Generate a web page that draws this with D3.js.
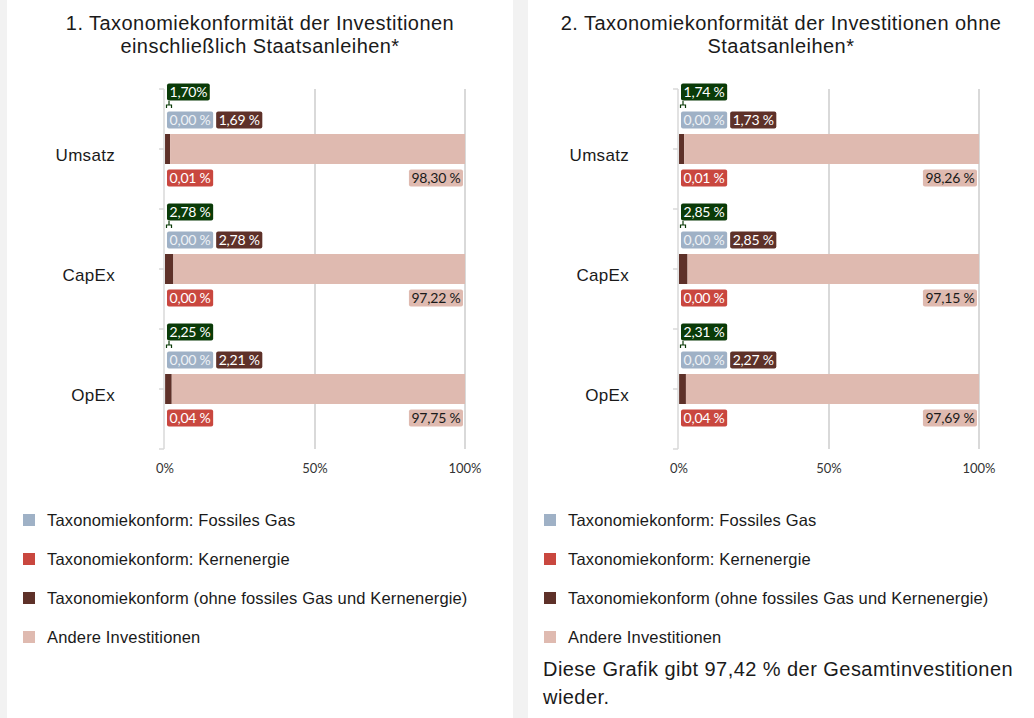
<!DOCTYPE html>
<html>
<head>
<meta charset="utf-8">
<script src="https://cdn.jsdelivr.net/npm/d3@7"></script>
<style>
  body { margin: 0; background: #f2f2f2; }
  svg { display: block; }
</style>
</head>
<body>
<script>
var width = 1034,
    height = 718;

// Daten
var categories = ['Umsatz', 'CapEx', 'OpEx'];
var ticks = [0, 50, 100];
var tickLabels = ['0%', '50%', '100%'];

var titles1 = ['1. Taxonomiekonformität der Investitionen', 'einschließlich Staatsanleihen*'];
var gas1 = [0.00, 0.00, 0.00];
var nuclear1 = [0.01, 0.00, 0.04];
var aligned1 = [1.69, 2.78, 2.21];
var other1 = [98.30, 97.22, 97.75];
var totalLabels1 = ['1,70%', '2,78 %', '2,25 %'];

var titles2 = ['2. Taxonomiekonformität der Investitionen ohne', 'Staatsanleihen*'];
var gas2 = [0.00, 0.00, 0.00];
var nuclear2 = [0.01, 0.00, 0.04];
var aligned2 = [1.73, 2.85, 2.27];
var other2 = [98.26, 97.15, 97.69];
var totalLabels2 = ['1,74 %', '2,85 %', '2,31 %'];

var legendLabels = [
    'Taxonomiekonform: Fossiles Gas',
    'Taxonomiekonform: Kernenergie',
    'Taxonomiekonform (ohne fossiles Gas und Kernenergie)',
    'Andere Investitionen'
];
var colors = ['#9fb1c6', '#c9473f', '#5e3129', '#dfbab0'];
var totalColor = '#0a3b08';
var note = ['Diese Grafik gibt 97,42 % der Gesamtinvestitionen', 'wieder.'];

function fmt(v) {
    return v.toFixed(2).replace('.', ',') + ' %';
}

var svg = d3.select('body').append('svg').attr('width', width).attr('height', height);

// Hintergrund-Panels
svg.append('rect').attr('x', 7).attr('y', 0).attr('width', 506).attr('height', height).attr('fill', '#fff');
svg.append('rect').attr('x', 528).attr('y', 0).attr('width', 506).attr('height', height).attr('fill', '#fff');

var textFont = '"Liberation Sans", Arial, sans-serif';
var labelFont = 'Lato, "Open Sans", sans-serif';

function drawPanel(px, titles, gas, nuclear, aligned, other, totalLabels, x0) {
    var g = svg.append('g');

    // Titel
    g.selectAll('text.title').data(titles).enter().append('text')
        .attr('class', 'title')
        .attr('x', px + 253)
        .attr('y', function (d, i) { return 30 + i * 23; })
        .attr('text-anchor', 'middle')
        .style('font-family', textFont)
        .style('font-size', '20px')
        .style('letter-spacing', '0.45px')
        .attr('fill', '#1a1a1a')
        .text(function (d) { return d; });

    var x = d3.scaleLinear().domain([0, 100]).range([x0, x0 + 300]);
    var y = d3.scaleBand().domain(categories).range([89, 449]);

    // Gitterlinien
    g.selectAll('line.grid').data(ticks.slice(1)).enter().append('line')
        .attr('x1', function (d) { return x(d); })
        .attr('x2', function (d) { return x(d); })
        .attr('y1', 89).attr('y2', 449)
        .attr('stroke', '#d9d9d9').attr('stroke-width', 2);

    // Achse links
    g.append('line').attr('x1', x0 - 1).attr('x2', x0 - 1).attr('y1', 89).attr('y2', 449)
        .attr('stroke', '#d9d9d9').attr('stroke-width', 1.5);
    var tickYs = [89];
    categories.forEach(function (c) {
        tickYs.push(y(c) + y.bandwidth() / 2);
        tickYs.push(y(c) + y.bandwidth());
    });
    g.selectAll('line.ytick').data(tickYs).enter().append('line')
        .attr('x1', x0 - 6).attr('x2', x0 - 1)
        .attr('y1', function (d) { return d; }).attr('y2', function (d) { return d; })
        .attr('stroke', '#d9d9d9').attr('stroke-width', 1.5);

    // Kategorien
    g.selectAll('text.cat').data(categories).enter().append('text')
        .attr('x', x0 - 50)
        .attr('y', function (d) { return y(d) + y.bandwidth() / 2 + 12; })
        .attr('text-anchor', 'end')
        .style('font-family', textFont)
        .style('font-size', '17px')
        .style('letter-spacing', '0.3px')
        .attr('fill', '#1a1a1a')
        .text(function (d) { return d; });

    // x Achsenbeschriftung
    g.selectAll('text.xt').data(ticks).enter().append('text')
        .attr('x', function (d) { return x(d); })
        .attr('y', 473)
        .attr('text-anchor', 'middle')
        .style('font-family', labelFont)
        .style('font-size', '13px')
        .attr('fill', '#333')
        .text(function (d, i) { return tickLabels[i]; });

    // Balken (gestapelt)
    var rows = categories.map(function (c, i) {
        return { cat: c, values: [gas[i], nuclear[i], aligned[i], other[i]], total: totalLabels[i] };
    });
    var stack = d3.stack().keys([0, 1, 2, 3]).value(function (d, k) { return d.values[k]; });
    var series = stack(rows);
    var bh = 30;
    g.selectAll('g.series').data(series).enter().append('g')
        .attr('fill', function (d, i) { return colors[i]; })
        .selectAll('rect').data(function (d) { return d; }).enter().append('rect')
        .attr('x', function (d) { return x(d[0]); })
        .attr('width', function (d) { return x(d[1]) - x(d[0]); })
        .attr('y', function (d) { return y(d.data.cat) + y.bandwidth() / 2 - bh / 2; })
        .attr('height', bh);

    // Datenbeschriftungen
    function label(text, lx, cy, bg, fg, anchorEnd) {
        var lg = g.append('g');
        var t = lg.append('text')
            .attr('y', cy + 5)
            .style('font-family', labelFont)
            .style('font-size', '14px')
            .style('letter-spacing', '-0.2px')
            .attr('fill', fg)
            .text(text);
        var w = t.node().getComputedTextLength();
        var bx = anchorEnd ? lx - w - 5 : lx;
        t.attr('x', bx + 2.5);
        lg.insert('rect', 'text')
            .attr('x', bx).attr('y', cy - 8.5)
            .attr('width', w + 5).attr('height', 17)
            .attr('rx', 2)
            .attr('fill', bg);
        return bx + w + 5;
    }

    rows.forEach(function (r) {
        var cy = y(r.cat) + y.bandwidth() / 2;
        // Summe mit Klammer
        label(r.total, x(0) + 2, cy - 57, totalColor, '#fff');
        g.append('path')
            .attr('d', 'M' + (x(0) + 4) + ',' + (cy - 48) + 'v4 M' + (x(0) + 1.5) + ',' + (cy - 41) + 'v-3h5v3')
            .attr('fill', 'none').attr('stroke', totalColor).attr('stroke-width', 1.2);
        var end = label(fmt(r.values[0]), x(0) + 2, cy - 29, colors[0], '#eef2f6');
        label(fmt(r.values[2]), end + 3, cy - 29, colors[2], '#fff');
        label(fmt(r.values[1]), x(0) + 2, cy + 29, colors[1], '#fff');
        label(fmt(r.values[3]), x(100) - 2, cy + 29, colors[3], '#1a1a1a', true);
    });

    // Legende
    var lgd = g.selectAll('g.legend').data(legendLabels).enter().append('g')
        .attr('transform', function (d, i) { return 'translate(' + (px + 16) + ',' + (520 + i * 39) + ')'; });
    lgd.append('rect').attr('x', 0).attr('y', -6).attr('width', 12).attr('height', 12)
        .attr('fill', function (d, i) { return colors[i]; });
    lgd.append('text').attr('x', 24).attr('y', 6)
        .style('font-family', textFont)
        .style('font-size', '16.5px')
        .style('letter-spacing', '0.15px')
        .attr('fill', '#1a1a1a')
        .text(function (d) { return d; });
}

drawPanel(7, titles1, gas1, nuclear1, aligned1, other1, totalLabels1, 165);
drawPanel(528, titles2, gas2, nuclear2, aligned2, other2, totalLabels2, 679);

// Hinweis
svg.selectAll('text.note').data(note).enter().append('text')
    .attr('x', 543)
    .attr('y', function (d, i) { return 676 + i * 28; })
    .style('font-family', textFont)
    .style('font-size', '20px')
    .style('letter-spacing', '0.45px')
    .attr('fill', '#1a1a1a')
    .text(function (d) { return d; });
</script>
</body>
</html>
